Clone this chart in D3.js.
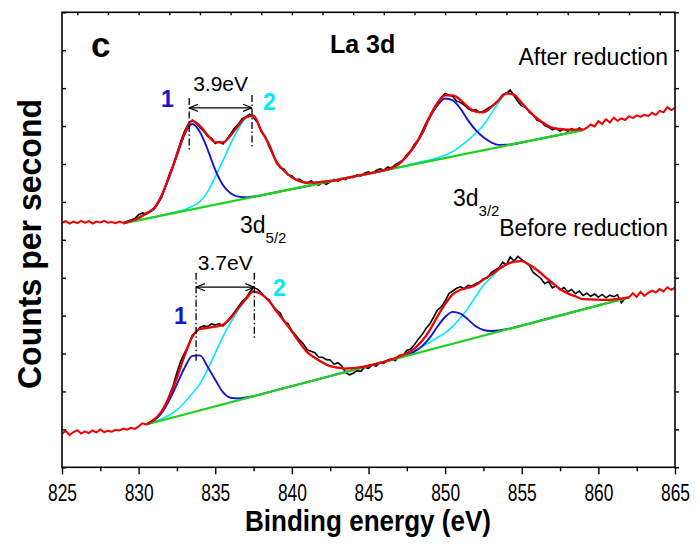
<!DOCTYPE html>
<html>
<head>
<meta charset="utf-8">
<script src="https://cdn.jsdelivr.net/npm/d3@7"></script>
<style>
  body { margin: 0; background: #fff; }
  text { font-family: "Liberation Sans", Arial, sans-serif; }
</style>
</head>
<body>
<svg id="chart"></svg>
<script>
// raw spectra, 825 -> 865 eV every 0.25 eV (one row = 1 eV)
const rawStart = 825, rawStep = 0.25;
const rawAfter = [
  64.5, 64.9, 64.3, 64.8,   // 825
  64.4, 65.0, 64.5, 64.9,
  64.3, 64.8, 64.6, 65.0,
  64.5, 64.7, 64.4, 64.8,
  64.5, 64.9, 65.2, 65.6,   // 829
  66.6, 67.1, 66.8, 67.4,
  68.0, 69.5, 71.2, 74.0,
  77.3, 79.6, 82.8, 86.0,
  88.7, 90.6, 91.6, 90.8,
  89.6, 88.6, 87.3, 86.8,   // 834
  85.4, 85.9, 85.3, 86.4,
  87.9, 89.4, 90.5, 91.9,
  92.5, 93.1, 92.2, 91.0,
  88.5, 87.4, 84.7, 82.5,
  80.2, 78.9, 78.6, 77.1,   // 839
  76.9, 75.8, 76.0, 75.2,
  74.9, 75.6, 74.8, 74.4,
  75.1, 74.6, 75.3, 75.9,
  75.4, 76.2, 75.9, 76.6,
  76.4, 77.1, 76.8, 77.6,   // 844
  77.9, 77.5, 78.3, 78.7,
  78.4, 79.2, 79.0, 79.8,
  80.4, 81.0, 82.5, 83.4,
  85.2, 86.3, 88.6, 90.8,
  92.4, 94.6, 96.2, 97.6,   // 849
  98.6, 98.1, 97.8, 96.6,
  96.2, 95.5, 94.6, 94.0,
  94.3, 93.6, 93.9, 94.6,
  95.2, 95.9, 96.9, 98.3,
  98.6, 99.5, 98.0, 96.5,   // 854
  95.3, 95.0, 93.6, 92.9,
  91.5, 91.2, 90.1, 89.7,
  89.0, 89.4, 88.7, 89.2,
  88.6, 89.3, 88.8, 89.5,
  89.0, 89.6, 90.4, 89.9,   // 859
  91.3, 90.5, 91.8, 90.9,
  92.2, 91.4, 92.0, 91.6,
  92.6, 92.1, 92.8, 92.4,
  93.0, 92.6, 93.5, 92.9,
  94.0, 93.6, 95.0, 94.2,   // 864
  94.8
];
const rawBefore = [
  8.9, 9.6, 8.5, 9.3,       // 825
  9.8, 8.9, 9.5, 9.0,
  9.7, 9.2, 10.0, 9.3,
  9.6, 9.4, 9.9, 9.7,
  10.2, 9.9, 10.4, 10.1,    // 829
  10.8, 11.6, 11.3, 12.0,
  12.6, 13.2, 14.6, 16.3,
  18.9, 21.5, 25.0, 28.0,
  30.2, 32.1, 34.8, 35.6,
  36.9, 37.3, 37.1, 37.8,   // 834
  37.5, 37.9, 37.3, 38.4,
  39.6, 40.9, 42.3, 43.7,
  44.6, 46.2, 47.4, 47.0,
  46.1, 44.8, 44.2, 42.6,
  41.5, 40.6, 38.5, 37.9,   // 839
  36.0, 34.8, 33.6, 32.5,
  31.0, 30.6, 30.2, 29.1,
  29.0, 28.4, 28.3, 27.2,
  27.6, 26.8, 25.0, 24.4,
  24.8, 25.5, 25.3, 26.4,   // 844
  26.1, 27.0, 26.7, 27.6,
  27.4, 28.3, 28.6, 28.1,
  29.5, 29.4, 30.8, 31.2,
  32.4, 33.8, 35.0, 36.6,
  37.8, 39.6, 41.5, 42.3,   // 849
  43.9, 45.8, 46.5, 47.2,
  47.6, 47.1, 48.0, 47.8,
  48.4, 48.9, 49.7, 50.0,
  51.3, 52.0, 52.6, 54.1,
  53.4, 55.5, 54.4, 55.6,   // 854
  54.8, 54.0, 53.2, 51.4,
  50.6, 49.8, 48.4, 49.0,
  47.3, 47.9, 46.8, 47.4,
  46.3, 46.9, 45.8, 46.5,
  45.3, 45.9, 45.1, 45.7,   // 859
  44.9, 45.6, 44.7, 45.4,
  45.0, 45.5, 43.4, 44.6,
  44.8, 45.9, 44.9, 46.3,
  45.2, 46.0, 46.6, 46.1,
  47.0, 46.4, 47.5, 46.8,   // 864
  47.4
];

// fitted components, height above background, every 0.5 eV
const fitStep = 0.5;
const fitAfterStart = 829, fitAfterEnd = 859;
const bgAfter = [[829, 64.35], [859, 88.95]];
const comp1After = [
  0, 0.2, 0.6, 1.4, 2.3, 5.2, 9.8, 15.0, 20.2, 22.5,        // 829.0
  20.0, 15.0, 9.2, 4.8, 2.2, 0.9, 0.3, 0.1, 0, 0,           // 834.0
  0, 0, 0, 0, 0, 0, 0, 0, 0, 0,                             // 839.0
  0, 0, 0, 0, 0, 0.2, 0.9, 2.5, 4.7, 7.6,                   // 844.0
  11.5, 14.3, 15.7, 14.8, 12.2, 8.7, 5.7, 3.4, 1.7, 0.6,    // 849.0
  0.2, 0, 0, 0, 0, 0, 0, 0, 0, 0,                           // 854.0
  0
];
const comp2After = [
  0, 0, 0, 0, 0, 0.1, 0.1, 0.2, 0.3, 0.8,
  1.6, 3.8, 7.3, 11.2, 15.2, 18.7, 21.1, 21.3, 17.1, 13.1,
  8.0, 5.2, 3.1, 1.7, 0.9, 0.5, 0.3, 0.1, 0, 0,
  0, 0, 0, 0, 0, 0, 0.1, 0.1, 0.2, 0.3,
  0.3, 0.5, 0.8, 1.3, 2.3, 3.5, 4.9, 6.6, 9.2, 11.8,
  13.6, 13.0, 10.4, 7.8, 5.5, 3.7, 2.2, 1.5, 0.9, 0.5,
  0.2
];

const fitBeforeStart = 830.5, fitBeforeEnd = 862;
const bgBefore = [[830.5, 11.29], [862, 44.83]];
const comp1Before = [
  0, 0.5, 2.0, 4.8, 8.5, 12.3, 14.9, 14.5, 11.0, 7.0,       // 830.5
  3.2, 1.2, 0.5, 0.2, 0, 0, 0, 0, 0, 0,                     // 835.5
  0, 0, 0, 0, 0, 0, 0, 0, 0, 0,                             // 840.5
  0, 0, 0, 0.1, 0.2, 0.6, 1.5, 3.2, 5.6, 7.6,               // 845.5
  8.4, 7.4, 5.3, 3.0, 1.5, 0.7, 0.3, 0.1, 0, 0,             // 850.5
  0, 0, 0, 0, 0, 0, 0, 0, 0, 0,                             // 855.5
  0, 0, 0, 0
];
const comp2Before = [
  0, 0.2, 0.4, 0.9, 1.7, 3.2, 5.0, 7.0, 10.2, 14.0,
  17.8, 21.0, 23.8, 26.0, 27.6, 26.4, 24.1, 20.8, 17.7, 14.4,
  11.0, 7.9, 5.9, 4.1, 2.6, 1.7, 0.9, 0.5, 0.2, 0.1,
  0, 0, 0.1, 0.3, 0.5, 0.8, 1.4, 2.0, 2.7, 3.4,
  4.6, 6.3, 8.4, 10.9, 13.3, 14.8, 16.2, 17.1, 17.4, 17.0,
  15.5, 13.6, 11.3, 9.1, 7.0, 5.3, 4.0, 2.7, 2.1, 1.5,
  0.9, 0.5, 0.2, 0
];

// splitting markers (eV, counts)
const splitAfter = { e1: 833.3, e2: 837.4, top1: 97.4, bot1: 83.2, top2: 98.2, bot2: 84.2, arrow: 94.8, label: "3.9eV" };
const splitBefore = { e1: 833.75, e2: 837.55, top1: 51.3, bot1: 27.5, top2: 51.3, bot2: 33.6, arrow: 47.5, label: "3.7eV" };

const xTicks = [825, 830, 835, 840, 845, 850, 855, 860, 865];

const colors = { raw: "#000", fit: "#f00000", c1: "#1414d2", c2: "#00eaff", bg: "#1ed21e" };

const W = 613, H = 455;
const svg = d3.select("#chart").attr("width", 700).attr("height", 545);
const g = svg.append("g").attr("transform", "translate(62,12.3)");

const x = d3.scaleLinear().domain([825, 865]).range([0, W]);
const y = d3.scaleLinear().domain([0, 120]).range([H, 0]);

const line = d3.line().x(d => x(d[0])).y(d => y(d[1]));
const smooth = d3.line().x(d => x(d[0])).y(d => y(d[1])).curve(d3.curveMonotoneX);

function drawSpectrum(raw, fitStart, fitEnd, bgEnds, comp1, comp2) {
  const pts = raw.map((v, i) => [rawStart + i * rawStep, v]);
  const bg = d3.scaleLinear().domain([bgEnds[0][0], bgEnds[1][0]]).range([bgEnds[0][1], bgEnds[1][1]]);
  const es = comp1.map((_, i) => fitStart + i * fitStep);

  // raw data: black inside fit window, red outside
  g.append("path").attr("d", line(pts.filter(p => p[0] >= fitStart && p[0] <= fitEnd)))
    .attr("fill", "none").attr("stroke", colors.raw).attr("stroke-width", 1.6);
  [pts.filter(p => p[0] <= fitStart), pts.filter(p => p[0] >= fitEnd)].forEach(seg => {
    g.append("path").attr("d", line(seg))
      .attr("fill", "none").attr("stroke", colors.fit).attr("stroke-width", 2);
  });

  g.append("path").attr("d", smooth(es.map((e, i) => [e, bg(e) + comp2[i]])))
    .attr("fill", "none").attr("stroke", colors.c2).attr("stroke-width", 1.6);
  g.append("path").attr("d", smooth(es.map((e, i) => [e, bg(e) + comp1[i]])))
    .attr("fill", "none").attr("stroke", colors.c1).attr("stroke-width", 1.9);
  g.append("path").attr("d", line(bgEnds))
    .attr("fill", "none").attr("stroke", colors.bg).attr("stroke-width", 2.3);
  g.append("path").attr("d", smooth(es.map((e, i) => [e, bg(e) + comp1[i] + comp2[i]])))
    .attr("fill", "none").attr("stroke", colors.fit).attr("stroke-width", 2.3);
}

drawSpectrum(rawAfter, fitAfterStart, fitAfterEnd, bgAfter, comp1After, comp2After);
drawSpectrum(rawBefore, fitBeforeStart, fitBeforeEnd, bgBefore, comp1Before, comp2Before);

// splitting markers
const defs = svg.append("defs");
defs.append("marker").attr("id", "arr").attr("viewBox", "0 0 10 10")
  .attr("refX", 10).attr("refY", 5).attr("markerWidth", 9).attr("markerHeight", 9)
  .attr("markerUnits", "userSpaceOnUse").attr("orient", "auto-start-reverse")
  .append("path").attr("d", "M0,1 L10,5 L0,9").attr("fill", "none").attr("stroke", "#000").attr("stroke-width", 1.3);

[splitAfter, splitBefore].forEach(s => {
  [[s.e1, s.top1, s.bot1], [s.e2, s.top2, s.bot2]].forEach(([e, t, b]) => {
    g.append("line").attr("x1", x(e)).attr("x2", x(e)).attr("y1", y(t)).attr("y2", y(b))
      .attr("stroke", "#000").attr("stroke-width", 1.3).attr("stroke-dasharray", "7,2.5,1.5,2.5");
  });
  g.append("line").attr("x1", x(s.e1)).attr("x2", x(s.e2)).attr("y1", y(s.arrow)).attr("y2", y(s.arrow))
    .attr("stroke", "#000").attr("stroke-width", 1.3)
    .attr("marker-start", "url(#arr)").attr("marker-end", "url(#arr)");
  g.append("text").attr("x", (x(s.e1) + x(s.e2)) / 2).attr("y", y(s.arrow) - 17)
    .attr("text-anchor", "middle").attr("font-size", 21).text(s.label);
});

// axes
function clean(sel) { sel.select(".domain").remove(); sel.selectAll("line").attr("stroke-width", 1.4); }
g.append("g").attr("transform", `translate(0,${H})`)
  .call(d3.axisBottom(x).tickValues(xTicks).tickSize(7).tickFormat(d3.format("d")))
  .call(clean)
  .call(a => a.selectAll("text").attr("y", 33.5).attr("dy", null)
    .attr("font-size", 24).attr("fill", "#000")
    .attr("font-family", "'Liberation Sans', Arial, sans-serif")
    .attr("textLength", 29).attr("lengthAdjust", "spacingAndGlyphs"));
g.append("g").attr("transform", `translate(0,${H})`)
  .call(d3.axisBottom(x).tickValues(xTicks.slice(1).map(t => t - 2.5)).tickSize(4).tickFormat(""))
  .call(clean);
g.append("g")
  .call(d3.axisBottom(x).ticks(16).tickSize(3).tickFormat(""))
  .call(clean);
g.append("g")
  .call(d3.axisRight(y).ticks(12).tickSize(4).tickFormat(""))
  .call(clean);
g.append("g").attr("transform", `translate(${W},0)`)
  .call(d3.axisRight(y).ticks(12).tickSize(4).tickFormat(""))
  .call(clean);
g.append("rect").attr("width", W).attr("height", H)
  .attr("fill", "none").attr("stroke", "#000").attr("stroke-width", 1.6);

// axis titles
svg.append("text").attr("x", 368).attr("y", 531).attr("text-anchor", "middle")
  .attr("font-size", 29).attr("font-weight", "bold")
  .attr("textLength", 246).attr("lengthAdjust", "spacingAndGlyphs")
  .text("Binding energy (eV)");
svg.append("text").attr("transform", "translate(41,244) rotate(-90)").attr("text-anchor", "middle")
  .attr("font-size", 33).attr("font-weight", "bold")
  .attr("textLength", 290).attr("lengthAdjust", "spacingAndGlyphs")
  .text("Counts per second");

// labels
svg.append("text").attr("x", 91).attr("y", 57).attr("font-size", 35).attr("font-weight", "bold").text("c");
svg.append("text").attr("x", 330).attr("y", 53).attr("font-size", 25).attr("font-weight", "bold").text("La 3d");
svg.append("text").attr("x", 668).attr("y", 65).attr("text-anchor", "end").attr("font-size", 23).text("After reduction");
svg.append("text").attr("x", 668).attr("y", 236).attr("text-anchor", "end").attr("font-size", 23).text("Before reduction");

function orbital(xp, yp, sub) {
  const t = svg.append("text").attr("x", xp).attr("y", yp).attr("font-size", 23);
  t.append("tspan").text("3d");
  t.append("tspan").attr("font-size", 15).attr("dy", 10).text(sub);
}
orbital(240, 233, "5/2");
orbital(453, 206, "3/2");

[[161, 107, "1", colors.c1], [263, 110, "2", colors.c2], [174, 324, "1", colors.c1], [273, 296, "2", colors.c2]]
  .forEach(([xp, yp, s, c]) => {
    svg.append("text").attr("x", xp).attr("y", yp).attr("font-size", 23).attr("font-weight", "bold")
      .attr("fill", c).text(s);
  });
</script>
</body>
</html>
